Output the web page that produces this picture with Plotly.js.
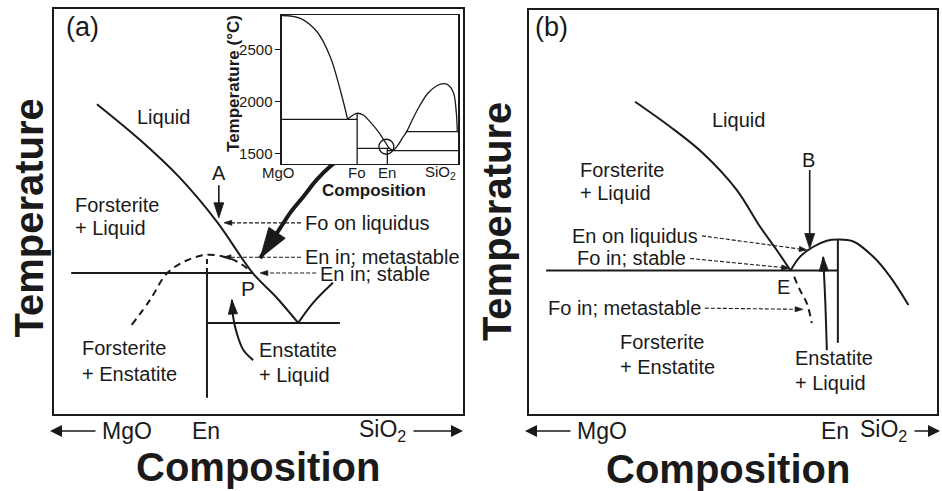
<!DOCTYPE html>
<html><head><meta charset="utf-8">
<script src="https://cdn.plot.ly/plotly-3.0.1.min.js"></script>
<style>html,body{margin:0;padding:0;background:#fff}#chart{width:942px;height:491px}</style>
</head><body><div id="chart"></div>
<script>
// ---------- Panel (a): schematic units (0-100 composition, 0-100 temperature) ----------
const a_foLiquidusX = [10.5, 21.0, 30.8, 39.9, 48.6, 54.3, 59.7];
const a_foLiquidusY = [76.5, 67.7, 58.3, 47.4, 34.8, 28.9, 22.5];
const a_enLiquidusX = [59.7, 63.3, 68.2];
const a_enLiquidusY = [22.5, 27.4, 32.4];
const a_peritecticX = [4.2, 48.6];
const a_peritecticY = [34.8, 34.8];
const a_enSolidX = [37.4, 37.4];
const a_enSolidY = [34.8, 4.0];
const a_enDashX = [37.4, 37.4];
const a_enDashY = [34.8, 39.3];
const a_eutecticX = [37.4, 69.9];
const a_eutecticY = [22.5, 22.5];
const a_metaArcX = [19.0, 23.5, 27.6, 32.4, 37.3, 42.2, 45.5, 48.6];
const a_metaArcY = [22.0, 28.2, 34.7, 37.9, 39.3, 38.7, 37.2, 34.8];
// arrows (a)
const a_arrowA_X = [40.3, 40.3],   a_arrowA_Y = [56.5, 48.4];
const a_foOnLiqX = [60.4, 41.6],   a_foOnLiqY = [47.2, 47.2];
const a_enMetaX = [60.4, 41.4],    a_enMetaY = [38.7, 38.7];
const a_enStableX = [64.1, 50.4],  a_enStableY = [34.8, 34.8];
const a_bigArrowX = [79.6, 74.0, 70.7, 67.5, 64.2, 61.0, 57.7, 55.3, 50.4];
const a_bigArrowY = [66.0, 65.4, 63.5, 61.1, 57.8, 53.7, 49.6, 45.9, 38.5];
const a_enLiqArrowX = [48.7, 46.3, 44.7, 43.8, 43.5];
const a_enLiqArrowY = [13.3, 15.8, 19.9, 24.0, 28.2];

// ---------- Inset: MgO-SiO2 system, wt% SiO2 vs temperature (°C) ----------
const in_mgoLiqX = [0, 10.4, 19.9, 27.4, 33.1, 37.3];
const in_mgoLiqT = [2825, 2798, 2669, 2429, 2109, 1827];
const in_perFoEutX = [0, 42.7];
const in_perFoEutT = [1827, 1827];
const in_foVertX = [42.7, 42.7];
const in_foVertT = [1397, 1885];
const in_foLiqX = [37.3, 40.5, 42.7, 46.2, 50.0, 54.7, 58.5, 61.0, 63.3];
const in_foLiqT = [1827, 1868, 1885, 1868, 1804, 1708, 1612, 1548, 1525];
const in_periX = [42.7, 61.0];
const in_periT = [1548, 1548];
const in_enVertX = [59.85, 59.85];
const in_enVertT = [1397, 1548];
const in_eutX = [59.85, 100];
const in_eutT = [1525, 1525];
const in_silLiqX = [63.3, 66.0, 68.5, 70.8, 74.0, 78.0, 83.0, 88.0, 92.0, 95.0, 97.5, 99.0, 99.6];
const in_silLiqT = [1525, 1580, 1650, 1708, 1820, 1950, 2080, 2150, 2170, 2150, 2080, 1900, 1708];
const in_monoX = [70.8, 100];
const in_monoT = [1708, 1708];
const in_circleX = [59.3], in_circleT = [1563];
const in_tickVals = [1500, 2000, 2500];
const in_compVals = [0, 42.7, 59.85, 100];
const in_compText = ['MgO', 'Fo', 'En', 'SiO<sub>2</sub>'];

// ---------- Panel (b) ----------
const b_foLiquidusX = [26.0, 34.6, 42.7, 50.9, 56.6, 60.7, 64.1];
const b_foLiquidusY = [77.3, 71.1, 64.5, 55.5, 46.4, 40.6, 35.5];
const b_eutecticX = [4.2, 75.7];
const b_eutecticY = [35.5, 35.5];
const b_enVertX = [75.7, 75.7];
const b_enVertY = [43.2, 17.6];
const b_domeX = [64.1, 66.4, 69.7, 73.0, 75.7, 79.5, 84.4, 88.5, 93.0];
const b_domeY = [35.5, 38.9, 41.4, 42.9, 43.2, 42.7, 38.9, 34.0, 27.0];
const b_metaX = [65.0, 66.4, 68.1, 69.3];
const b_metaY = [34.0, 30.7, 27.4, 22.5];
const b_arrowB_X = [68.8, 68.8],   b_arrowB_Y = [60.4, 40.9];
const b_enOnLiqX = [42.4, 68.1],   b_enOnLiqY = [44.1, 40.6];
const b_foStableX = [39.5, 63.8],  b_foStableY = [38.5, 36.1];
const b_foMetaX = [43.1, 67.1],    b_foMetaY = [26.2, 25.9];
const b_enLiqArrowX = [73.0, 72.6, 72.1];
const b_enLiqArrowY = [15.8, 28.2, 38.9];

// composition tick labels under each panel
const a_compTickX = [17.85, 37.2, 80.4];
const b_compTickX = [18.0, 75.0, 87.0];
const compTickText = ['MgO', 'En', 'SiO<sub>2</sub>'];

const INK = '#1a1a1a';
const FONT = 'Liberation Sans, Arial, Helvetica, sans-serif';

function line(x, y, xa, ya, w, dash, spline) {
  return {type: 'scatter', mode: 'lines', x: x, y: y, xaxis: xa, yaxis: ya,
    line: {color: INK, width: w, dash: dash || 'solid', shape: spline ? 'spline' : 'linear'},
    hoverinfo: 'skip', showlegend: false, cliponaxis: false};
}
function arrow(x, y, xa, ya, w, dash, head, spline) {
  const t = line(x, y, xa, ya, w, dash, spline);
  t.mode = 'lines+markers';
  t.marker = {symbol: 'arrow', angleref: 'previous', color: INK, opacity: 1,
    line: {width: 0.8, color: INK},
    size: x.map((_, i) => i === x.length - 1 ? head : 0)};
  return t;
}

const DOT = '4px,2px';
const META = '7px,5px';

const traces = [
  // panel (a)
  line(a_foLiquidusX, a_foLiquidusY, 'x', 'y', 2, null, true),
  line(a_enLiquidusX, a_enLiquidusY, 'x', 'y', 2, null, true),
  line(a_peritecticX, a_peritecticY, 'x', 'y', 2),
  line(a_enSolidX, a_enSolidY, 'x', 'y', 2),
  line(a_enDashX, a_enDashY, 'x', 'y', 2, '5px,4px'),
  line(a_eutecticX, a_eutecticY, 'x', 'y', 2),
  line(a_metaArcX, a_metaArcY, 'x', 'y', 2, META, true),
  arrow(a_arrowA_X, a_arrowA_Y, 'x', 'y', 1.6, null, 16),
  arrow(a_foOnLiqX, a_foOnLiqY, 'x', 'y', 1.1, DOT, 8),
  arrow(a_enMetaX, a_enMetaY, 'x', 'y', 1.1, DOT, 8),
  arrow(a_enStableX, a_enStableY, 'x', 'y', 1.1, DOT, 8),
  arrow(a_enLiqArrowX, a_enLiqArrowY, 'x', 'y', 2, null, 15, true),
  arrow(a_bigArrowX, a_bigArrowY, 'x', 'y', 4, null, 32, true),
  // inset
  line(in_mgoLiqX, in_mgoLiqT, 'x3', 'y3', 1.3, null, true),
  line(in_perFoEutX, in_perFoEutT, 'x3', 'y3', 1.3),
  line(in_foVertX, in_foVertT, 'x3', 'y3', 1.3),
  line(in_foLiqX, in_foLiqT, 'x3', 'y3', 1.3, null, true),
  line(in_periX, in_periT, 'x3', 'y3', 1.3),
  line(in_enVertX, in_enVertT, 'x3', 'y3', 1.3),
  line(in_eutX, in_eutT, 'x3', 'y3', 1.3),
  line(in_silLiqX, in_silLiqT, 'x3', 'y3', 1.3, null, true),
  line(in_monoX, in_monoT, 'x3', 'y3', 1.3),
  {type: 'scatter', mode: 'markers', x: in_circleX, y: in_circleT, xaxis: 'x3', yaxis: 'y3',
   marker: {symbol: 'circle-open', size: 15, color: INK, opacity: 1, line: {width: 1.3, color: INK}},
   hoverinfo: 'skip', showlegend: false},
  // panel (b)
  line(b_foLiquidusX, b_foLiquidusY, 'x2', 'y2', 2, null, true),
  line(b_eutecticX, b_eutecticY, 'x2', 'y2', 2),
  line(b_enVertX, b_enVertY, 'x2', 'y2', 2),
  line(b_domeX, b_domeY, 'x2', 'y2', 2, null, true),
  line(b_metaX, b_metaY, 'x2', 'y2', 2, META, true),
  arrow(b_arrowB_X, b_arrowB_Y, 'x2', 'y2', 1.6, null, 16),
  arrow(b_enOnLiqX, b_enOnLiqY, 'x2', 'y2', 1.1, DOT, 8),
  arrow(b_foStableX, b_foStableY, 'x2', 'y2', 1.1, DOT, 8),
  arrow(b_foMetaX, b_foMetaY, 'x2', 'y2', 1.1, DOT, 8),
  arrow(b_enLiqArrowX, b_enLiqArrowY, 'x2', 'y2', 2, null, 15, true)
];

function txt(text, x, y, xref, yref, size, xanchor, extra) {
  return Object.assign({text: text, x: x, y: y, xref: xref, yref: yref, showarrow: false,
    xanchor: xanchor || 'center', yanchor: 'middle',
    font: {family: FONT, size: size, color: INK}}, extra || {});
}
const bold = (s) => ({family: FONT, size: s, color: INK, weight: 'bold'});

const annotations = [
  // panel (a) labels
  txt('(a)', 6.85, 95.6, 'x', 'y', 27),
  txt('Liquid', 26.8, 73.3, 'x', 'y', 20),
  txt('Forsterite', 4.65, 51.6, 'x', 'y', 20, 'left'),
  txt('+ Liquid', 4.65, 45.9, 'x', 'y', 20, 'left'),
  txt('A', 40.3, 59.5, 'x', 'y', 20),
  txt('Fo on liquidus', 60.9, 47.2, 'x', 'y', 20, 'left'),
  txt('En in; metastable', 61.0, 38.8, 'x', 'y', 20, 'left'),
  txt('En in; stable', 64.6, 34.5, 'x', 'y', 20, 'left'),
  txt('P', 47.4, 31.1, 'x', 'y', 21),
  txt('Forsterite', 6.4, 16.2, 'x', 'y', 20, 'left'),
  txt('+ Enstatite', 6.4, 10.0, 'x', 'y', 20, 'left'),
  txt('Enstatite', 49.6, 15.8, 'x', 'y', 20, 'left'),
  txt('+ Liquid', 49.6, 9.6, 'x', 'y', 20, 'left'),
  // panel (b) labels
  txt('(b)', 5.6, 95.8, 'x2', 'y2', 27),
  txt('Liquid', 51.4, 72.8, 'x2', 'y2', 20),
  txt('Forsterite', 12.1, 60.4, 'x2', 'y2', 20, 'left'),
  txt('+ Liquid', 12.1, 54.6, 'x2', 'y2', 20, 'left'),
  txt('B', 68.5, 62.9, 'x2', 'y2', 20),
  txt('En on liquidus', 41.9, 44.1, 'x2', 'y2', 20, 'right'),
  txt('Fo in; stable', 39.0, 38.5, 'x2', 'y2', 20, 'right'),
  txt('E', 62.4, 31.4, 'x2', 'y2', 20),
  txt('Fo in; metastable', 42.6, 26.2, 'x2', 'y2', 20, 'right'),
  txt('Forsterite', 21.9, 17.9, 'x2', 'y2', 20, 'left'),
  txt('+ Enstatite', 21.9, 11.7, 'x2', 'y2', 20, 'left'),
  txt('Enstatite', 64.8, 13.8, 'x2', 'y2', 20, 'left'),
  txt('+ Liquid', 64.8, 7.6, 'x2', 'y2', 20, 'left'),
  // inset labels
  txt(in_compText[0], in_compVals[0], 0.6477, 'x3', 'paper', 15, 'center', {xshift: -3}),
  txt(in_compText[1], in_compVals[1], 0.6477, 'x3', 'paper', 15),
  txt(in_compText[2], in_compVals[2], 0.6477, 'x3', 'paper', 15),
  txt(in_compText[3], in_compVals[3], 0.6477, 'x3', 'paper', 15, 'right'),
  txt('Composition', 0.397, 0.611, 'paper', 'paper', 17, 'center', {font: bold(17)}),
  txt('Temperature (°C)', 0.2484, 0.831, 'paper', 'paper', 17, 'center', {font: bold(17), textangle: -90}),
  // main axis titles
  txt('Temperature', 0.0308, 0.555, 'paper', 'paper', 40, 'center', {font: bold(40), textangle: -90}),
  txt('Temperature', 0.5283, 0.549, 'paper', 'paper', 40, 'center', {font: bold(40), textangle: -90}),
  txt('Composition', 0.2739, 0.0489, 'paper', 'paper', 40, 'center', {font: bold(40)}),
  txt('Composition', 0.7728, 0.0448, 'paper', 'paper', 40, 'center', {font: bold(40)}),
];
// composition tick labels
compTickText.forEach((t, i) => {
  annotations.push(txt(t, a_compTickX[i], 0.1222, 'x', 'paper', 23));
  annotations.push(txt(t, b_compTickX[i], 0.1222, 'x2', 'paper', 23));
});
// direction arrows beside the composition labels
function dirArrow(xTip, tailPx) {
  return {x: xTip, y: 0.1222, xref: 'paper', yref: 'paper', text: '', showarrow: true,
    ax: tailPx, ay: 0, arrowhead: 2, arrowsize: 1.5, arrowwidth: 1.6, arrowcolor: INK};
}
annotations.push(dirArrow(50 / 942, 47), dirArrow(463 / 942, -51),
                 dirArrow(525 / 942, 47), dirArrow(940 / 942, -27));

const frame = {showgrid: false, zeroline: false, showticklabels: false, ticks: '',
  showline: true, mirror: true, linecolor: INK, linewidth: 2, range: [0, 100], fixedrange: true};

const layout = {
  width: 942, height: 491,
  margin: {l: 0, r: 0, t: 0, b: 0},
  paper_bgcolor: '#fff', plot_bgcolor: '#fff',
  showlegend: false,
  xaxis: Object.assign({}, frame, {domain: [0.05732, 0.49151], anchor: 'y'}),
  yaxis: Object.assign({}, frame, {domain: [0.15682, 0.98167], anchor: 'x'}),
  xaxis2: Object.assign({}, frame, {domain: [0.56157, 0.99469], anchor: 'y2'}),
  yaxis2: Object.assign({}, frame, {domain: [0.15682, 0.97963], anchor: 'x2'}),
  xaxis3: Object.assign({}, frame, {domain: [0.29936, 0.48620], anchor: 'y3', linewidth: 1.5}),
  yaxis3: Object.assign({}, frame, {domain: [0.66599, 0.96945], anchor: 'x3', linewidth: 1.5,
    range: [1397, 2830], showticklabels: true, tickvals: in_tickVals, ticks: 'outside',
    ticklen: 5, tickwidth: 1.3, tickcolor: INK, tickfont: {family: FONT, size: 15, color: INK}}),
  annotations: annotations
};

Plotly.newPlot('chart', traces, layout, {staticPlot: true, displayModeBar: false});
</script></body></html>
